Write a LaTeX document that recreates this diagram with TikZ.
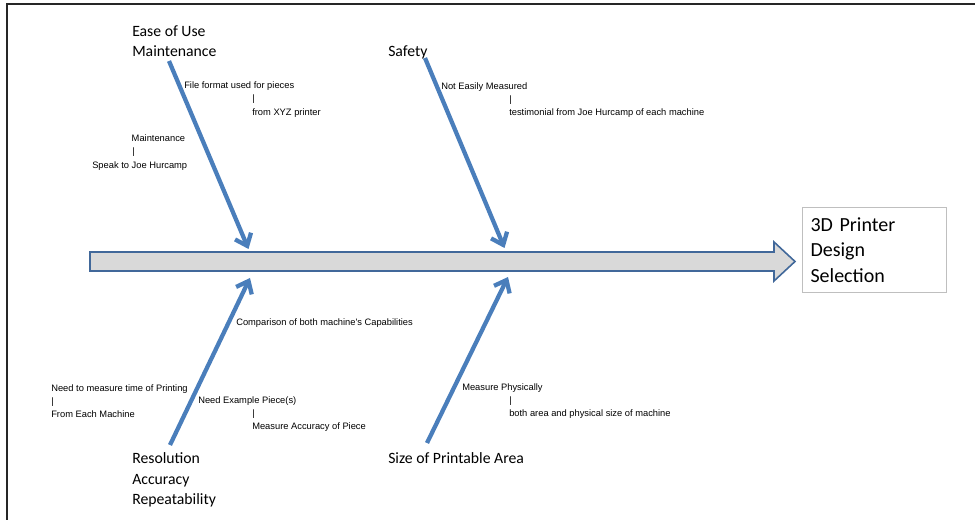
\documentclass[tikz,border=0pt]{standalone}
\usepackage{fontspec}
\setmainfont{Carlito}
\newfontfamily\petite{Liberation Sans}
\usetikzlibrary{arrows.meta}
\definecolor{bleu}{HTML}{4A7EBB}
\definecolor{bord}{HTML}{41689A}
\definecolor{gris}{HTML}{D9D9D9}
\definecolor{grisclair}{HTML}{BFBFBF}
\tikzset{cadre/.style={
    draw=black!85,
    line width=1.5pt}}
\tikzset{epine/.style={
    fill=gris,
    draw=bord,
    line width=1.2pt}}
\tikzset{arete/.style={
    draw=bleu,
    line width=3.2pt,
    -{Straight Barb[length=8pt,width=13pt]}}}
\tikzset{cause/.style={
    anchor=north west,
    inner sep=0pt,
    align=left,
    font=\fontsize{11.8}{15.3}\selectfont}}
\tikzset{note/.style={
    anchor=west,
    inner sep=0pt,
    align=left,
    font=\petite\fontsize{7}{10}\selectfont}}
\tikzset{effet/.style={
    anchor=north west,
    draw=grisclair,
    line width=0.8pt,
    text width=96pt,
    inner xsep=6pt,
    minimum height=63.75pt,
    align=left,
    font=\fontsize{15}{19}\selectfont}}

\begin{document}
\begin{tikzpicture}[x=0.75pt,y=-0.75pt]
\useasboundingbox (0,0) rectangle (975,520);
  % cadre
\draw[cadre] (7,520) -- (7,4.5) -- (975,4.5);

  % arête principale
\draw[epine] (90,252) -- (774,252) -- (774,242) -- (795,261.5)
  -- (774,281) -- (774,271) -- (90,271) -- cycle;
\node[effet] (effet) at (802,207) {3D Printer\\Design\\Selection};

  % causes
\node[cause] (ease) at (132,25) {Ease of Use\\Maintenance};
\node[cause] (safety) at (388,45) {Safety};
\node[cause] (resol) at (132,452.5) {Resolution\\Accuracy\\Repeatability};
\node[cause] (size) at (388,452.5) {Size of Printable Area};

  % arêtes
\coordinate (haut1) at (169,61);
\coordinate (pointe1) at (248.5,249);
\coordinate (haut2) at (425,58);
\coordinate (pointe2) at (504.5,248);
\coordinate (bas3) at (170,445);
\coordinate (pointe3) at (250,278);
\coordinate (bas4) at (427,443);
\coordinate (pointe4) at (508,277);
\draw[arete] (haut1) -- (pointe1);
\draw[arete] (haut2) -- (pointe2);
\draw[arete] (bas3) -- (pointe3);
\draw[arete] (bas4) -- (pointe4);

  % sous-causes
\node[note] (format) at (184,99.5)
  {File format used for pieces\\\hspace*{51pt}|\\\hspace*{51pt}from XYZ printer};
\node[note] (joe) at (92,152.5)
  {\hspace*{29.6pt}Maintenance\\\hspace*{30pt}|\\Speak to Joe Hurcamp};
\node[note] (mesure) at (441,100)
  {Not Easily Measured\\\hspace*{51pt}|\\\hspace*{51pt}testimonial from Joe Hurcamp of each machine};
\node[note] (compar) at (236,323) {Comparison of both machine's Capabilities};
\node[note] (temps) at (51,401)
  {Need to measure time of Printing\\|\\From Each Machine};
\node[note] (piece) at (198,414)
  {Need Example Piece(s)\\\hspace*{40.5pt}|\\\hspace*{40.5pt}Measure Accuracy of Piece};
\node[note] (physique) at (462,401)
  {Measure Physically\\\hspace*{35.25pt}|\\\hspace*{35.25pt}both area and physical size of machine};
\end{tikzpicture}
\end{document}
